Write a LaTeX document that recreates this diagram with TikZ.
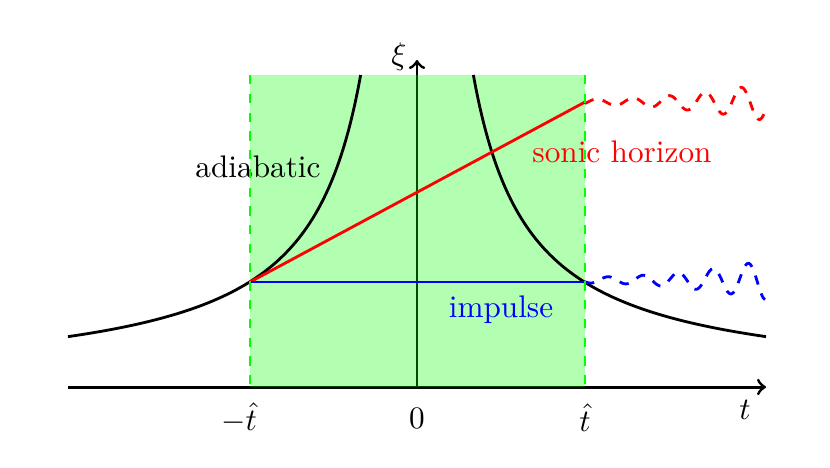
\documentclass[tikz,border=0pt]{standalone}
\begin{document}
\begin{tikzpicture}[x=0.32pt,y=-0.32pt,
  axis/.style={line width=0.95pt,->},
  curve/.style={line width=0.9pt,black},
  guide/.style={green,dashed,line width=0.5pt},
  wave/.style={line width=0.9pt,dashed,smooth},
  lbl/.style={inner sep=0pt,anchor=center}]
\useasboundingbox (0,0) rectangle (830,467);
% coordinates
\coordinate (xl) at (68,387);
\coordinate (xr) at (766,387);
\coordinate (O) at (417,387);
\coordinate (yt) at (417,60);
\coordinate (A) at (250,282);
\coordinate (B) at (585,102);
\coordinate (C) at (585,282);
% axes
\draw[axis] (xl) -- (xr);
\draw[axis] (O) -- (yt);
% green band
\fill[green,opacity=0.3] (250,75) rectangle (585,387);
% hyperbola branches
\draw[curve] plot[domain=68:360.63,samples=150,smooth] (\x,{387-105/((417-\x)/167.5)});
\draw[curve] plot[domain=473.37:766,samples=150,smooth] (\x,{387-105/((\x-417)/167.5)});
% sonic horizon and impulse lines
\draw[line width=0.9pt,red] (A) -- (B);
\draw[line width=0.9pt,blue] (A) -- (C);
\draw[wave,red] plot[domain=0:180,samples=240] ({585+\x},{102-(3+13*(\x/165)*(\x/165))*sin(10*\x-30)});
\draw[wave,blue] plot[domain=0:180,samples=240] ({585+\x},{280-(3+14*(\x/165)*(\x/165))*sin(10.2857*\x-146.6)});
% labels
\node[lbl] (xi) at (399,57) {$\xi$};
\node[lbl] (tl) at (745,410) {$t$};
\node[lbl] (tm) at (239,418) {$-\hat{t}$};
\node[lbl] (t0) at (417,418) {$0$};
\node[lbl] (tp) at (585,418) {$\hat{t}$};
\node[lbl] (ad) at (258,167) {adiabatic};
\node[lbl,red] (sh) at (622,152) {sonic horizon};
\node[lbl,blue] (im) at (501,310) {impulse};
% dashed boundaries
\draw[guide] (250,75) -- (250,387);
\draw[guide] (585,75) -- (585,387);
\end{tikzpicture}
\end{document}
